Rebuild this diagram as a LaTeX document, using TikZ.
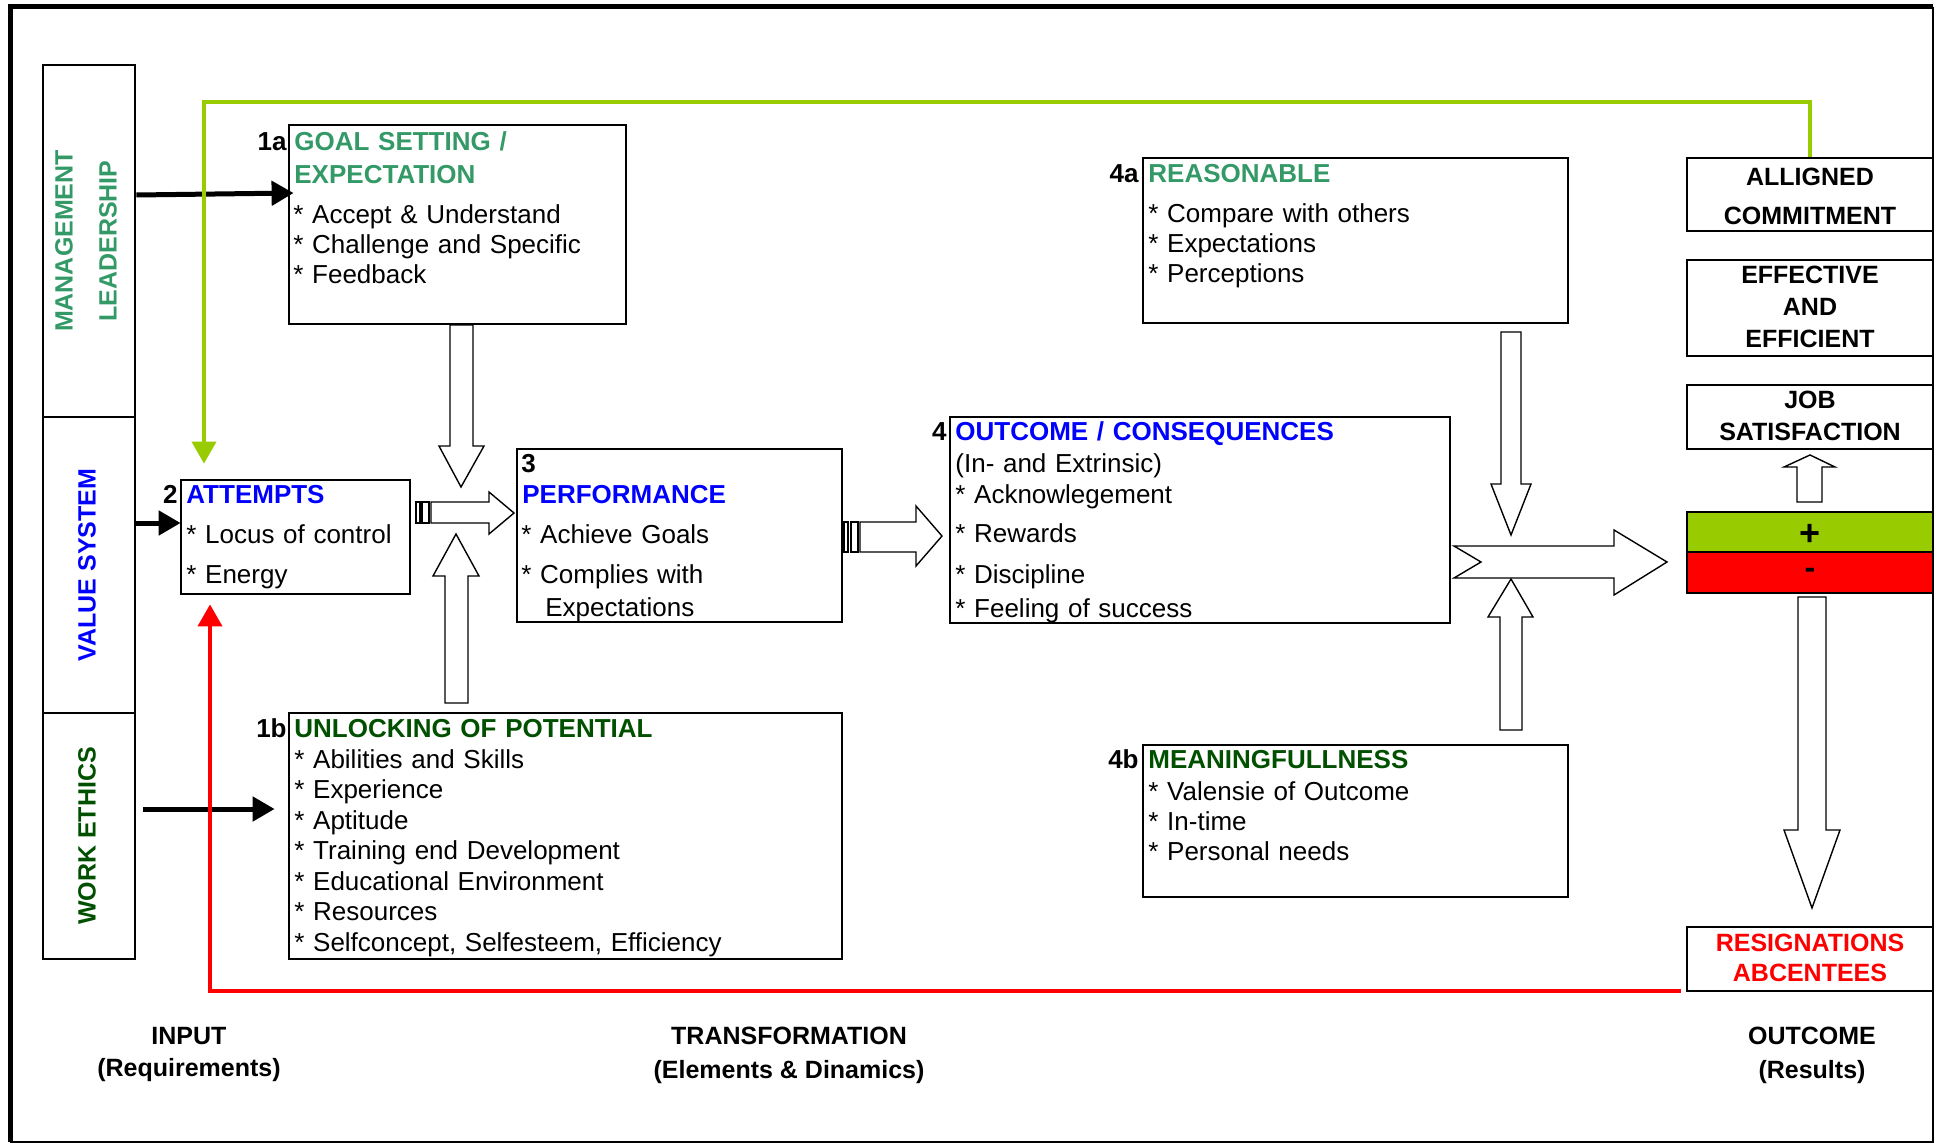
\documentclass[tikz,border=0pt]{standalone}
\usepackage{fontspec}
\setmainfont{Liberation Sans}
\usetikzlibrary{arrows.meta,calc,fit}
\definecolor{seagreen}{RGB}{51,153,102}
\definecolor{darkleaf}{RGB}{0,80,0}
\definecolor{limegreen}{RGB}{153,204,0}
\definecolor{alarmred}{RGB}{255,0,0}
\definecolor{headblue}{RGB}{0,0,255}
\newcommand{\bul}{*\ }

\begin{document}
\begin{tikzpicture}[
  x=0.5pt, y=-0.5pt,
  panel/.style={draw, line width=1.4pt, inner sep=0pt},
  restext/.style={align=center, inner sep=0pt, font=\bfseries\fontsize{12.5}{16}\selectfont},
  num/.style={anchor=base east, inner sep=0pt, font=\bfseries\fontsize{13}{15}\selectfont},
  head/.style={anchor=base west, inner sep=0pt, align=left, text width=260pt, font=\bfseries\fontsize{13}{16.5}\selectfont},
  items/.style={anchor=base west, inner sep=0pt, align=left, text width=260pt, font=\fontsize{13}{15}\selectfont},
  side/.style={rotate=90, align=center, font=\bfseries\fontsize{12.5}{22}\selectfont},
  caption/.style={align=center, font=\bfseries\fontsize{12.5}{16}\selectfont},
  feed/.style={line width=2.5pt, -{Triangle[length=11pt,width=12pt]}},
  backline/.style={line width=2pt, -{Triangle[length=11pt,width=12pt]}},
  block/.style={draw, line width=0.7pt, fill=white, line join=miter}
]
  \useasboundingbox (0,0) rectangle (1939,1145);
  % frame
  \draw[line width=1pt] (1933,7) -- (1933,1142) -- (10,1142);
  \draw[line width=2.5pt] (10,1142) -- (10,7) -- (1933,7);

  % input column
  \node[panel, fit={(43,65) (135,417)}] (lead) {};
  \node[panel, fit={(43,417) (135,713)}] (vals) {};
  \node[panel, fit={(43,713) (135,959)}] (ethic) {};
  \node[side, text=seagreen] (lead-text) at ($(lead.center)+(-3,0)$) {MANAGEMENT\\LEADERSHIP};
  \node[side, text=headblue] (vals-text) at ($(vals.center)+(-2,0)$) {VALUE SYSTEM};
  \node[side, text=darkleaf] (ethic-text) at ($(ethic.center)+(-2,0)$) {WORK ETHICS};

  % transformation boxes
  \node[panel, fit={(289,125) (626,324)}] (goal) {};
  \node[panel, fit={(289,713) (842,959)}] (unlock) {};
  \node[panel, fit={(181,480) (410,594)}] (attempt) {};
  \node[panel, fit={(517,449) (842,622)}] (perf) {};
  \node[panel, fit={(950,417) (1450,623)}] (outc) {};
  \node[panel, fit={(1143,158) (1568,323)}] (reason) {};
  \node[panel, fit={(1143,745) (1568,897)}] (meaning) {};

  \node[num] (goal-num) at (287,151) {1a};
  \node[head, text=seagreen] (goal-head) at (294,151) {GOAL SETTING /\\EXPECTATION};
  \node[items] (goal-items) at (293,223) {\bul Accept \& Understand\\\bul Challenge and Specific\\\bul Feedback};

  \node[num] (attempt-num) at (178,503) {2};
  \node[head, text=headblue] (attempt-head) at (186,503) {ATTEMPTS};
  \node[items] (attempt-items) at (186,543) {\bul Locus of control\\[5pt]\bul Energy};

  \node[num, anchor=base west] (perf-num) at (521,472) {3};
  \node[head, text=headblue] (perf-head) at (522,503) {PERFORMANCE};
  \node[items] (perf-items) at (521,543) {\bul Achieve Goals\\[5pt]\bul Complies with\\[1.5pt]\hspace*{12pt}Expectations};

  \node[num] (outc-num) at (947,440) {4};
  \node[head, text=headblue] (outc-head) at (955,440) {OUTCOME / CONSEQUENCES};
  \node[items] (outc-items) at (955,472) {(In- and Extrinsic)\\[0.5pt]\bul Acknowlegement\\[4.5pt]\bul Rewards\\[5.5pt]\bul Discipline\\[2pt]\bul Feeling of success};

  \node[num] (reason-num) at (1139,183) {4a};
  \node[head, text=seagreen] (reason-head) at (1148,183) {REASONABLE};
  \node[items] (reason-items) at (1148,222) {\bul Compare with others\\\bul Expectations\\\bul Perceptions};

  \node[num] (meaning-num) at (1139,768) {4b};
  \node[head, text=darkleaf] (meaning-head) at (1148,768) {MEANINGFULLNESS};
  \node[items] (meaning-items) at (1148,800) {\bul Valensie of Outcome\\\bul In-time\\\bul Personal needs};

  \node[num] (unlock-num) at (287,737) {1b};
  \node[head, text=darkleaf] (unlock-head) at (294,737) {UNLOCKING OF POTENTIAL};
  \node[items, font=\fontsize{13}{15.25}\selectfont] (unlock-items) at (294,768) {\bul Abilities and Skills\\\bul Experience\\\bul Aptitude\\\bul Training end Development\\\bul Educational Environment\\\bul Resources\\\bul Selfconcept, Selfesteem, Efficiency};

  % outcome column
  \node[panel, fit={(1687,158) (1933,231)}] (commit) {};
  \node[panel, fit={(1687,260) (1933,356)}] (effic) {};
  \node[panel, fit={(1687,385) (1933,449)}] (jobsat) {};
  \node[panel, fill=limegreen, fit={(1687,512) (1933,552)}] (plus) {};
  \node[panel, fill=alarmred, fit={(1687,552) (1933,593)}] (minus) {};
  \node[panel, fit={(1687,927) (1933,991)}] (resign) {};
  \node[restext] (commit-text) at ($(commit.center)+(0,2)$) {ALLIGNED\\[3.5pt]COMMITMENT};
  \node[restext] (effic-text) at ($(effic.center)+(0,-1)$) {EFFECTIVE\\AND\\EFFICIENT};
  \node[restext] (jobsat-text) at ($(jobsat.center)+(0,-1)$) {JOB\\SATISFACTION};
  \node[restext, font=\bfseries\fontsize{18}{18}\selectfont] (plus-text) at ($(plus.center)+(0,3)$) {+};
  \node[restext, font=\bfseries\fontsize{16}{16}\selectfont] (minus-text) at ($(minus.center)+(0,1)$) {-};
  \node[restext, text=alarmred, font=\bfseries\fontsize{12.5}{15}\selectfont] (resign-text) at ($(resign.center)+(0,-1)$) {RESIGNATIONS\\ABCENTEES};

  % captions
  \node[caption] (inputcap) at (189,1054) {INPUT\\(Requirements)};
  \node[caption] (transcap) at (789,1055) {TRANSFORMATION\\[1pt](Elements \& Dinamics)};
  \node[caption] (outcomecap) at (1812,1055) {OUTCOME\\[1pt](Results)};

  % feeds from the input column
  \draw[feed] (lead.east |- 0,195) -- ($(goal.west |- 0,193)+(6,0)$);
  \draw[feed] (vals.east |- 0,523) -- ($(attempt.west |- 0,523)+(1,0)$);
  \draw[feed] ($(ethic.east |- 0,809)+(7,0)$) -- ($(unlock.west |- 0,809)+(-13,0)$);

  % feedback loops
  \draw[backline, draw=limegreen] (commit.north) |- (204,102) -- ($(attempt.north -| 204,0)+(0,-15)$);
  \draw[backline, draw=alarmred] ($(resign.south west)+(-5,-1)$) -| ($(attempt.south -| 210,0)+(0,9)$);

  % block arrows
  \draw[block] (450,325) -- (473,325) -- (473,446) -- (484,446) -- (461,487) -- (439,446) -- (450,446) -- cycle;
  \draw[block] (445,703) -- (468,703) -- (468,576) -- (479,576) -- (456,534) -- (433,576) -- (445,576) -- cycle;
  \draw[block] (416,502) rectangle (420,523);
  \draw[block] (422,502) rectangle (429,523);
  \draw[block] (431,502) -- (489,502) -- (489,492) -- (514,513) -- (489,534) -- (489,523) -- (431,523) -- cycle;
  \draw[block] (844,522) rectangle (848,552);
  \draw[block] (851,522) rectangle (858,552);
  \draw[block] (860,522) -- (916,522) -- (916,506) -- (942,536) -- (916,566) -- (916,552) -- (860,552) -- cycle;
  \draw[block] (1501,332) -- (1521,332) -- (1521,484) -- (1531,484) -- (1511,535) -- (1491,484) -- (1501,484) -- cycle;
  \draw[block] (1500,730) -- (1522,730) -- (1522,617) -- (1533,617) -- (1511,579) -- (1488,617) -- (1500,617) -- cycle;
  \draw[block] (1454,546) -- (1614,546) -- (1614,530) -- (1667,562) -- (1614,595) -- (1614,578) -- (1454,578) -- (1481,562) -- cycle;
  \draw[block] (1797,502) -- (1822,502) -- (1822,467) -- (1835,467) -- (1810,455) -- (1784,467) -- (1797,467) -- cycle;
  \draw[block] (1798,597) -- (1826,597) -- (1826,830) -- (1840,830) -- (1812,908) -- (1784,830) -- (1798,830) -- cycle;
\end{tikzpicture}
\end{document}
